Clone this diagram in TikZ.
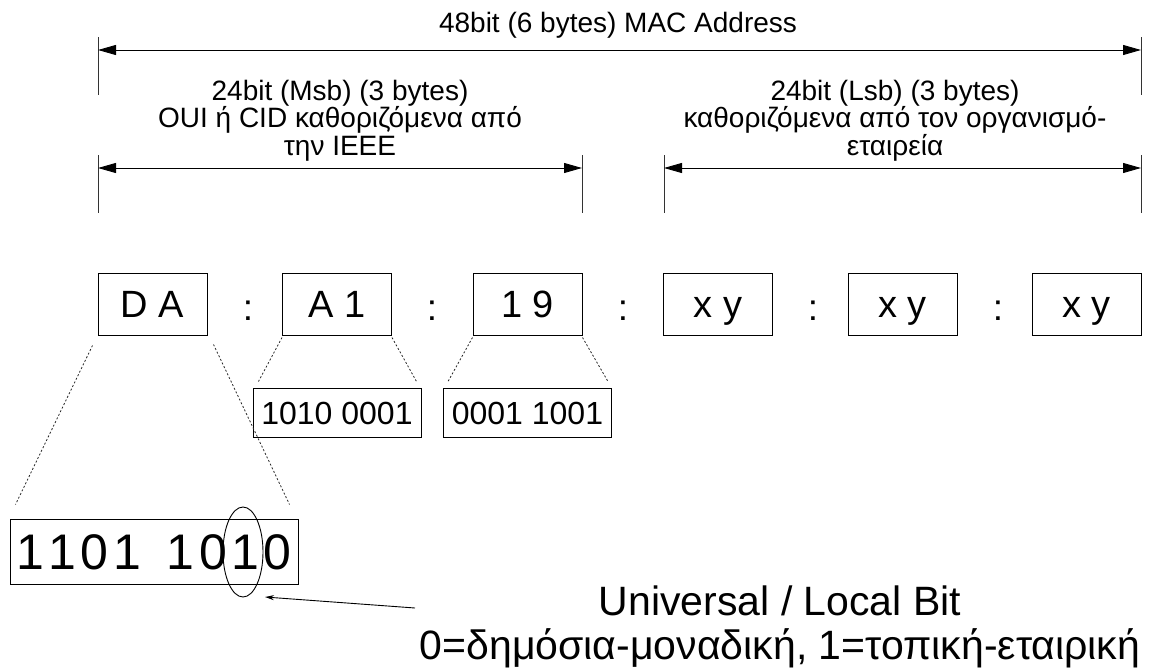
\documentclass[tikz,border=0pt]{standalone}
\usepackage{fontspec}
\setmainfont{Liberation Sans}
\usetikzlibrary{arrows.meta,shapes.geometric}
\begin{document}
\begin{tikzpicture}[x=1pt,y=-1pt,
  tick/.style={line width=0.9pt, draw=black!80},
  dimarr/.style={line width=0.9pt,{Triangle[length=18pt,width=10pt]}-{Triangle[length=18pt,width=10pt]}},
  lbl/.style={font=\fontsize{28}{27.5}\selectfont, align=center, inner sep=0pt, anchor=base},
  hexbox/.style={draw, line width=1pt, minimum width=109pt, minimum height=62pt, text height=26pt, text depth=0pt, inner sep=0pt, font=\fontsize{38}{44}\selectfont},
  colon/.style={font=\fontsize{37}{44}\selectfont, anchor=base, inner sep=0pt},
  binbox/.style={draw, line width=1pt, minimum width=168pt, minimum height=49pt, text height=23pt, text depth=0pt, inner sep=0pt, font=\fontsize{32}{38}\selectfont},
  bigbox/.style={draw, line width=1pt, minimum width=288pt, minimum height=65pt, text height=36pt, text depth=0pt, inner sep=0pt, font=\fontsize{50}{60}\selectfont},
  zoomline/.style={line width=0.8pt, draw=black!85, dash pattern=on 2pt off 2pt},
  ]
\path[fill=white,use as bounding box] (0,0) rectangle (1157,670);

% dimension ticks
\coordinate (a0t) at (98,37);   \coordinate (a0b) at (98,95);
\coordinate (a1t) at (1141,37); \coordinate (a1b) at (1141,95);
\coordinate (b0t) at (98,155);  \coordinate (b0b) at (98,213);
\coordinate (b1t) at (582,155); \coordinate (b1b) at (582,213);
\coordinate (b2t) at (664,155); \coordinate (b2b) at (664,213);
\coordinate (b3t) at (1141,155);\coordinate (b3b) at (1141,213);
\draw[tick] (a0t) -- (a0b);
\draw[tick] (a1t) -- (a1b);
\draw[tick] (b0t) -- (b0b);
\draw[tick] (b1t) -- (b1b);
\draw[tick] (b2t) -- (b2b);
\draw[tick] (b3t) -- (b3b);
\coordinate (a0m) at (98,50);   \coordinate (a1m) at (1141,50);
\coordinate (b0m) at (98,168);  \coordinate (b1m) at (582,168);
\coordinate (b2m) at (664,168); \coordinate (b3m) at (1141,168);
\draw[dimarr] (a0m) -- (a1m);
\draw[dimarr] (b0m) -- (b1m);
\draw[dimarr] (b2m) -- (b3m);

% labels
\node[lbl] (mac) at (618,32) {48bit (6 bytes) MAC Address};
\node[lbl] (msb) at (340,155) {24bit (Msb) (3 bytes)\\OUI ή CID καθοριζόμενα από\\την IEEE};
\node[lbl] (lsb) at (895,155) {24bit (Lsb) (3 bytes)\\καθοριζόμενα από τον οργανισμό-\\εταιρεία};

% address bytes
\node[hexbox] (da) at (152.5,304) {D A};
\node[hexbox] (a1) at (337,304) {A 1};
\node[hexbox] (n19) at (527.5,304) {1 9};
\node[hexbox] (x1) at (718,304) {x y};
\node[hexbox] (x2) at (902.5,304) {x y};
\node[hexbox] (x3) at (1086.5,304) {x y};
\node[colon] (c1) at (248,320) {:};
\node[colon] (c2) at (432,320) {:};
\node[colon] (c3) at (623,320) {:};
\node[colon] (c4) at (813,320) {:};
\node[colon] (c5) at (998,320) {:};

% binary expansions
\node[binbox] (ba1) at (337,412.5) {1010 0001};
\node[binbox] (b19) at (527.5,412.5) {0001 1001};
\node[bigbox] (bda) at (154,551.5) {1\kern4.5pt 1\kern4.5pt 0\kern4.5pt 1\hspace{26pt}1\kern4.5pt 0\kern4.5pt 1\kern4.5pt 0};

\draw[zoomline] ([shift={(-5,10)}]da.south west) -- ([shift={(6,-14)}]bda.north west);
\draw[zoomline] ([shift={(6,9)}]da.south east) -- ([shift={(-9,-14)}]bda.north east);
\draw[zoomline] ([shift={(0,2)}]a1.south west) -- ([shift={(6,-6)}]ba1.north west);
\draw[zoomline] ([shift={(0,2)}]a1.south east) -- ([shift={(-5,-6)}]ba1.north east);
\draw[zoomline] ([shift={(0,2)}]n19.south west) -- ([shift={(5,-6)}]b19.north west);
\draw[zoomline] ([shift={(0,2)}]n19.south east) -- ([shift={(-4,-6)}]b19.north east);

% universal/local bit
\node[draw, ellipse, line width=0.9pt, minimum width=40pt, minimum height=90pt, inner sep=0pt] (ub) at (243,552) {};
\node[font=\fontsize{41}{44}\selectfont, align=center, anchor=base, inner sep=0pt] (ul) at (780,659) {Universal / Local Bit\\0=δημόσια-μοναδική, 1=τοπική-εταιρική};
\coordinate (ua) at (415,608);
\draw[line width=0.9pt, -{Stealth[length=9pt,width=5pt]}] (ua) -- ([shift={(22,45)}]ub.center);
\end{tikzpicture}
\end{document}
